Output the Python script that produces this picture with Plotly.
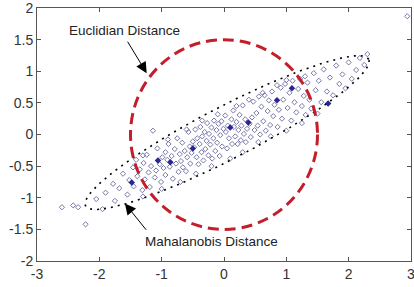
import numpy as np
import plotly.graph_objects as go

# ---- data ----
pts = [
    (-2.6,-1.15), (-2.42,-1.12), (-2.34,-1.15), (-2.22,-1.42), (-2.05,-1.02), (-1.95,-1.18),
    (-1.9,-0.92), (-1.78,-0.78), (-1.75,-1.05), (-1.68,-0.85), (-1.62,-0.62), (-1.55,-0.95), (-1.52,-0.72),
    (-1.46,-0.52), (-1.45,-0.82), (-1.41,-0.40), (-1.39,-0.66), (-1.35,-0.55), (-1.31,-0.88), (-1.29,-0.45),
    (-1.27,-0.71), (-1.24,-0.32), (-1.21,-0.60), (-1.19,-0.83), (-1.17,-0.50), (-1.14,0.06), (-1.11,-0.68),
    (-1.09,-0.57), (-1.07,-0.22), (-1.03,-0.47), (-1.01,-0.75), (-0.99,-0.36),
    (-0.97,-0.53), (-0.94,-0.28), (-0.94,-0.64), (-0.91,-0.40), (-0.89,-0.15), (-0.87,-0.51), (-0.84,-0.34),
    (-0.82,-0.70), (-0.79,-0.23), (-0.77,-0.46), (-0.75,-0.06), (-0.73,-0.59), (-0.71,-0.31), (-0.69,-0.42),
    (-0.67,-0.13), (-0.66,-0.52), (-0.63,-0.26), (-0.61,-0.58), (-0.59,-0.36), (-0.57,0.04), (-0.55,-0.19),
    (-0.54,-0.46), (-0.52,-0.29), (-0.50,-0.11),
    (-0.48,-0.20), (-0.46,0.08), (-0.44,-0.36), (-0.43,-0.06), (-0.41,-0.47), (-0.39,-0.15), (-0.38,0.12),
    (-0.36,-0.28), (-0.35,-0.03), (-0.33,-0.41), (-0.31,0.04), (-0.30,-0.23), (-0.28,-0.10), (-0.27,0.18),
    (-0.25,-0.33), (-0.24,0.01), (-0.22,-0.16), (-0.20,0.11), (-0.19,-0.38), (-0.17,-0.06), (-0.16,0.22),
    (-0.14,-0.26), (-0.12,0.07), (-0.11,-0.13), (-0.09,0.17), (-0.07,-0.34), (-0.06,-0.01), (-0.04,0.21),
    (-0.03,-0.19), (-0.01,0.09),
    (0.02,0.30), (0.03,0.04), (0.05,-0.22), (0.06,0.14), (0.08,-0.06), (0.12,0.24), (0.13,-0.15),
    (0.15,0.38), (0.16,0.12), (0.18,-0.03), (0.20,0.20), (0.22,-0.15), (0.23,0.07), (0.25,0.31), (0.27,-0.09),
    (0.28,0.14), (0.30,0.46), (0.32,0.01), (0.34,0.24), (0.35,-0.12), (0.37,0.09), (0.41,0.17),
    (0.43,-0.04), (0.45,0.27), (0.47,0.52), (0.49,0.07),
    (0.52,0.34), (0.54,0.14), (0.56,0.60), (0.58,0.00), (0.60,0.44), (0.63,0.21), (0.65,0.62), (0.67,0.06),
    (0.70,0.37), (0.72,0.54), (0.74,0.15), (0.77,0.68), (0.79,0.29), (0.81,0.47), (0.86,0.12),
    (0.88,0.39), (0.91,0.74), (0.93,0.25), (0.95,0.55), (0.98,0.80),
    (1.02,0.42), (1.05,0.66), (1.08,0.22), (1.10,0.85), (1.13,0.51), (1.16,0.35), (1.19,0.72), (1.22,0.88),
    (1.25,0.45), (1.28,0.61), (1.31,0.31), (1.34,0.82), (1.37,0.55), (1.40,0.41), (1.44,0.97), (1.47,0.70),
    (1.52,0.85), (1.56,0.51), (1.60,1.03), (1.65,0.68), (1.70,0.90), (1.75,0.62), (1.80,1.09), (1.85,0.80),
    (1.90,0.95), (1.95,0.73), (2.00,1.14), (2.05,0.88), (2.12,1.02), (2.18,1.21), (2.25,1.10), (2.30,1.27),
    (2.94,1.87),
    (-1.30,-0.33), (-0.90,-0.08), (-0.60,0.08), (-0.35,0.22), (-0.10,0.32), (0.20,0.45), (0.40,0.55),
    (0.62,0.66), (0.85,0.78), (1.00,0.86), (1.30,0.92),
    (-1.30,-0.98), (-1.00,-0.86), (-0.70,-0.75), (-0.45,-0.62), (-0.20,-0.50), (0.10,-0.38), (0.30,-0.28),
    (0.55,-0.12), (0.75,-0.03), (1.00,0.06), (1.25,0.18), (1.50,0.33),
]
dark_pts = [
    (-1.48,-0.76), (-1.06,-0.41), (-0.50,-0.22), (0.10,0.11), (0.39,0.19), (0.85,0.54),
    (1.09,0.73), (1.67,0.49), (-0.86,-0.44),
]
pts_x = [p[0] for p in pts]
pts_y = [p[1] for p in pts]
dark_x = [p[0] for p in dark_pts]
dark_y = [p[1] for p in dark_pts]

circle_radius = 1.5
band_center = (0.05, 0.03)      # centre of the dotted ellipse
band_half_axes = (2.55, 0.415)  # half length / half width
band_angle_deg = 27.0

x_ticks = [-3, -2, -1, 0, 1, 2, 3]
x_ticklabels = ["-3", "-2", "-1", "0", "1", "2", "3"]
y_ticks = [-2, -1.5, -1, -0.5, 0, 0.5, 1, 1.5, 2]
y_ticklabels = ["-2", "-1.5", "-1", "-0.5", "0", "0.5", "1", "1.5", "2"]

# ---- figure ----
t = np.linspace(0, 2 * np.pi, 400)
th = np.radians(band_angle_deg)
a, b = band_half_axes
u = a * np.cos(t)
v = b * np.sin(t)
ex = band_center[0] + u * np.cos(th) - v * np.sin(th)
ey = band_center[1] + u * np.sin(th) + v * np.cos(th)

fig = go.Figure()
fig.add_trace(go.Scatter(x=pts_x, y=pts_y, mode="markers",
                         marker=dict(symbol="diamond-open", size=4, color="#7878aa",
                                     line=dict(width=1)),
                         hoverinfo="skip", showlegend=False))
fig.add_trace(go.Scatter(x=dark_x, y=dark_y, mode="markers",
                         marker=dict(symbol="diamond", size=5, color="#27278f"),
                         hoverinfo="skip", showlegend=False))
fig.add_trace(go.Scatter(x=ex, y=ey, mode="lines",
                         line=dict(color="black", width=1.6, dash="2px,5px"),
                         hoverinfo="skip", showlegend=False))

fig.add_shape(type="circle", xref="x", yref="y",
              x0=-circle_radius, y0=-circle_radius, x1=circle_radius, y1=circle_radius,
              line=dict(color="#c41e2a", width=3, dash="11px,6px"))

font = dict(family="Liberation Sans, Arial, sans-serif", size=13.5, color="#222")
fig.add_annotation(x=-1.24, y=0.97, ax=-1.56, ay=1.49, xref="x", yref="y", axref="x", ayref="y",
                   text="", showarrow=True, arrowhead=2, arrowsize=2.2, arrowwidth=1, arrowcolor="black")
fig.add_annotation(x=-1.59, y=1.64, text="Euclidian Distance", showarrow=False, font=font,
                   xref="x", yref="y")
fig.add_annotation(x=-1.59, y=-1.09, ax=-1.23, ay=-1.53, xref="x", yref="y", axref="x", ayref="y",
                   text="", showarrow=True, arrowhead=2, arrowsize=2.2, arrowwidth=1, arrowcolor="black")
fig.add_annotation(x=-0.2, y=-1.69, text="Mahalanobis Distance", showarrow=False, font=font,
                   xref="x", yref="y")

axis_common = dict(showgrid=False, zeroline=False, showline=True, linecolor="#555", linewidth=1,
                   mirror="ticks", ticks="inside", ticklen=4, tickcolor="#555", automargin=False,
                   ticklabeloverflow="allow",
                   tickfont=dict(family="Liberation Sans, Arial, sans-serif", size=14, color="#333"))
fig.update_xaxes(range=[-3, 3], tickvals=x_ticks, ticktext=x_ticklabels, **axis_common)
fig.update_yaxes(range=[-2, 2], tickvals=y_ticks, ticktext=y_ticklabels, **axis_common)

fig.update_layout(width=414, height=287, margin=dict(l=37, r=3, t=8, b=26, autoexpand=False),
                  paper_bgcolor="white", plot_bgcolor="white")

fig.write_html("out.html", config={"displayModeBar": False},
               post_script="document.body.style.margin='0';document.body.style.overflow='hidden';")
